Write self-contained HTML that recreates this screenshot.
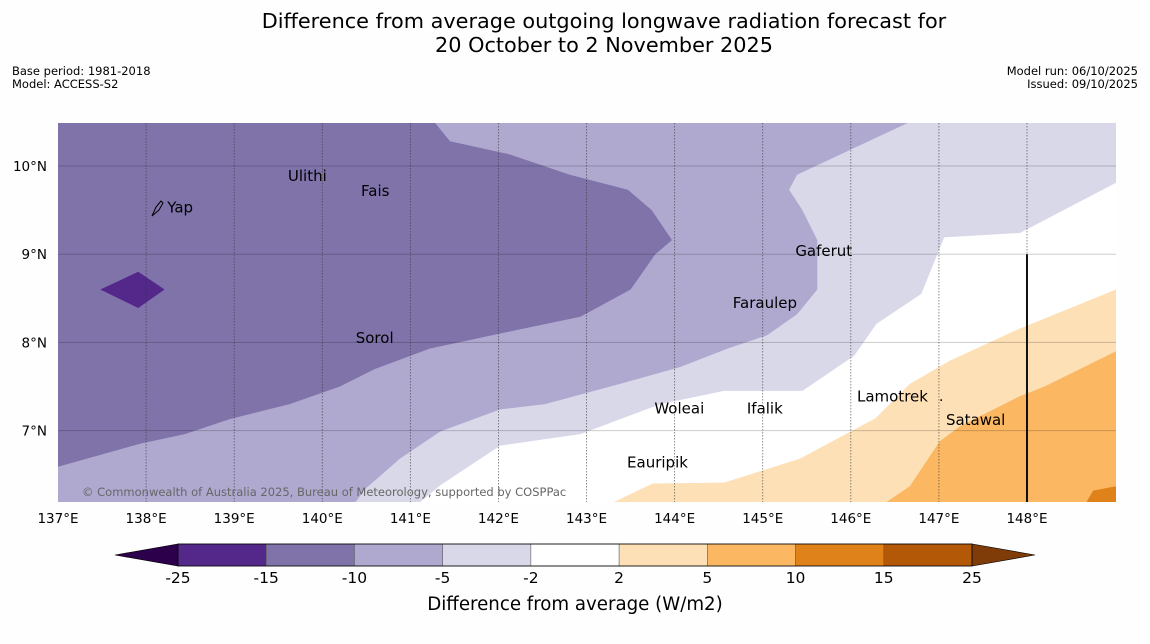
<!DOCTYPE html>
<html><head><meta charset="utf-8"><style>
body{margin:0;background:#fff;width:1150px;height:644px;overflow:hidden;font-family:"DejaVu Sans","Liberation Sans",sans-serif}
svg{display:block}
</style></head><body>
<svg id="chart" width="1150" height="644" viewBox="0 0 1150 644" font-family="DejaVu Sans, Liberation Sans, sans-serif">
<rect width="1150" height="644" fill="#fefefe"/>
<text x="604" y="28" font-size="20.8" text-anchor="middle">Difference from average outgoing longwave radiation forecast for</text>
<text x="604" y="52" font-size="20.8" text-anchor="middle">20 October to 2 November 2025</text>
<text x="12" y="75" font-size="11.5">Base period: 1981-2018</text>
<text x="12" y="88" font-size="11.5">Model: ACCESS-S2</text>
<text x="1138" y="75" font-size="11.5" text-anchor="end">Model run: 06/10/2025</text>
<text x="1138" y="88" font-size="11.5" text-anchor="end">Issued: 09/10/2025</text>
<clipPath id="mapclip"><rect x="58" y="123" width="1058" height="379"/></clipPath>
<g id="map" clip-path="url(#mapclip)"></g>
<g id="labels"></g>
<g id="axes"></g>
<g id="cbar"></g>
<text x="82" y="496" font-size="11.5" fill="#666">© Commonwealth of Australia 2025, Bureau of Meteorology, supported by COSPPac</text>
<text x="575" y="610" font-size="18.2" text-anchor="middle">Difference from average (W/m2)</text>
</svg>
<script>
// axis extents
const lonMin = 137, lonMax = 149.01, latMin = 6.18, latMax = 10.49;
const lonTicks = [137,138,139,140,141,142,143,144,145,146,147,148];
const latTicks = [7,8,9,10];
const cbarBounds = [-25,-15,-10,-5,-2,2,5,10,15,25];
const cbarColors = ['#54288a','#7f73aa','#afa9d0','#d8d8e9','#ffffff','#fde0b6','#fbb761','#e0821a','#b35806'];
// contour regions in [lon, lat]
const regionLight = [[137,10.49],[149.01,10.49],[149.01,9.81],[147.92,9.24],[147.06,9.19],[146.8,8.55],[146.29,8.21],[146.04,7.85],[145.45,7.45],[144.56,7.45],[143.84,7.3],[142.93,6.96],[142.02,6.83],[141.34,6.38],[141.1,6.18],[137,6.18]];
const regionMid = [[141.28,10.49],[149.01,10.49],[149.01,10.49],[146.65,10.49],[145.39,9.9],[145.3,9.73],[145.45,9.5],[145.62,9.16],[145.62,8.6],[145.39,8.32],[145.05,8.08],[144.6,7.93],[144.06,7.72],[143.38,7.53],[142.53,7.3],[142.02,7.24],[141.34,6.99],[140.88,6.68],[140.49,6.34],[140.37,6.18],[137,6.18],[137,10.49]];
const regionDark = [[137,10.49],[141.28,10.49],[141.45,10.28],[142.13,10.13],[142.81,9.9],[143.47,9.73],[143.74,9.5],[143.97,9.16],[143.78,9.0],[143.5,8.6],[142.93,8.29],[142.25,8.15],[141.22,7.93],[140.6,7.7],[140.2,7.5],[139.63,7.3],[138.95,7.13],[138.44,6.96],[137.93,6.85],[137,6.59]];
const regionDeep = [[137.48,8.6],[137.91,8.8],[138.21,8.6],[137.91,8.39]];
const regionOrangeLight = [[143.29,6.18],[143.75,6.4],[144.56,6.41],[145.42,6.68],[146.28,7.14],[146.67,7.53],[147.12,7.79],[147.9,8.15],[149.01,8.6],[149.01,6.18]];
const regionOrangeMid = [[146.39,6.18],[146.67,6.37],[147.01,6.88],[147.24,7.05],[147.92,7.39],[148.2,7.5],[149.01,7.9],[149.01,6.18]];
const regionOrangeDark = [[148.67,6.18],[148.75,6.32],[149.01,6.37],[149.01,6.18]];
const places = ['Ulithi','Fais','Yap','Gaferut','Faraulep','Sorol','Woleai','Ifalik','Lamotrek','Satawal','Eauripik'];
const placeLon = [139.61,140.44,138.24,145.37,144.66,140.38,143.77,144.82,146.07,147.08,143.46];
const placeLat = [9.9,9.73,9.54,9.05,8.46,8.06,7.26,7.26,7.40,7.13,6.65];

const NS='http://www.w3.org/2000/svg';
const X = lon => 58 + (lon - 137) * 88.09;
const Y = lat => 166 + (10 - lat) * 88.2;
function mk(tag, attrs, parent){const e=document.createElementNS(NS,tag);for(const k in attrs)e.setAttribute(k,attrs[k]);parent.appendChild(e);return e;}
const map=document.getElementById('map');
const bg=mk('rect',{x:58,y:123,width:1058,height:379,fill:'#ffffff'},map);


const layers=[[regionLight,'#d8d8e9','contour-minus5-to-minus2'],[regionMid,'#afa9d0','contour-minus10-to-minus5'],[regionDark,'#7f73aa','contour-minus15-to-minus10'],[regionDeep,'#54288a','contour-minus25-to-minus15'],[regionOrangeLight,'#fde0b6','contour-2-to-5'],[regionOrangeMid,'#fbb761','contour-5-to-10'],[regionOrangeDark,'#e0821a','contour-10-to-15']];
layers.forEach(l=>{
  const p=mk('polygon',{points:l[0].map(q=>X(q[0]).toFixed(1)+','+Y(q[1]).toFixed(1)).join(' '),fill:l[1]},map);
  
  
});
// grid
lonTicks.forEach(t=>{ if(t===137) return;
  const g=mk('line',{x1:X(t),x2:X(t),y1:123,y2:502,stroke:'#333','stroke-width':0.8,'stroke-dasharray':'1.5,1.5','stroke-opacity':0.7},map);
  
  
});
latTicks.forEach(t=>{
  const g=mk('line',{x1:58,x2:1116,y1:Y(t),y2:Y(t),stroke:'#000','stroke-width':1,'stroke-opacity':0.2},map);
  
  
});
const bl=mk('line',{x1:X(148),x2:X(148),y1:Y(9),y2:502,stroke:'#111','stroke-width':2},map);


// yap island
const yi=mk('path',{d:'M152,216 L156,207 L161,201 L163,203 L159,210 Z',fill:'none',stroke:'#000','stroke-width':1},map);


// labels
const lab=document.getElementById('labels');
places.forEach((n,i)=>{
  const t=mk('text',{x:X(placeLon[i]),y:Y(placeLat[i])+6,'font-size':15},lab);
  t.textContent=n;
  
  
});
const dot=mk('text',{x:939,y:401,'font-size':14},lab);
dot.textContent='.';


// axes
const ax=document.getElementById('axes');
lonTicks.forEach(t=>{
  const e=mk('text',{x:X(t),y:523,'font-size':13.5,'text-anchor':'middle'},ax);
  e.textContent=t+'°E';
  
  
});
latTicks.forEach(t=>{
  const e=mk('text',{x:47,y:Y(t)+5,'font-size':13.5,'text-anchor':'end'},ax);
  e.textContent=t+'°N';
  
  
});
// colorbar
const cb=document.getElementById('cbar');
const cx0=178, cx1=972, cy0=544, cy1=566, n=cbarColors.length, w=(cx1-cx0)/n;
const la=mk('polygon',{points:`115,555 ${cx0},${cy0} ${cx0},${cy1}`,fill:'#2d004b',stroke:'#000','stroke-width':0.6},cb);


const ra=mk('polygon',{points:`1035,555 ${cx1},${cy0} ${cx1},${cy1}`,fill:'#7f3b08',stroke:'#000','stroke-width':0.6},cb);


cbarColors.forEach((c,i)=>{
  const r=mk('rect',{x:cx0+i*w,y:cy0,width:w,height:cy1-cy0,fill:c,stroke:'#555','stroke-width':0.5},cb);
  
  
});
const ol=mk('rect',{x:cx0,y:cy0,width:cx1-cx0,height:cy1-cy0,fill:'none',stroke:'#000','stroke-width':0.8},cb);


cbarBounds.forEach((b,i)=>{
  const t=mk('text',{x:cx0+i*w,y:583,'font-size':15.5,'text-anchor':'middle'},cb);
  t.textContent=b;
  
  
});
</script>
</body></html>
